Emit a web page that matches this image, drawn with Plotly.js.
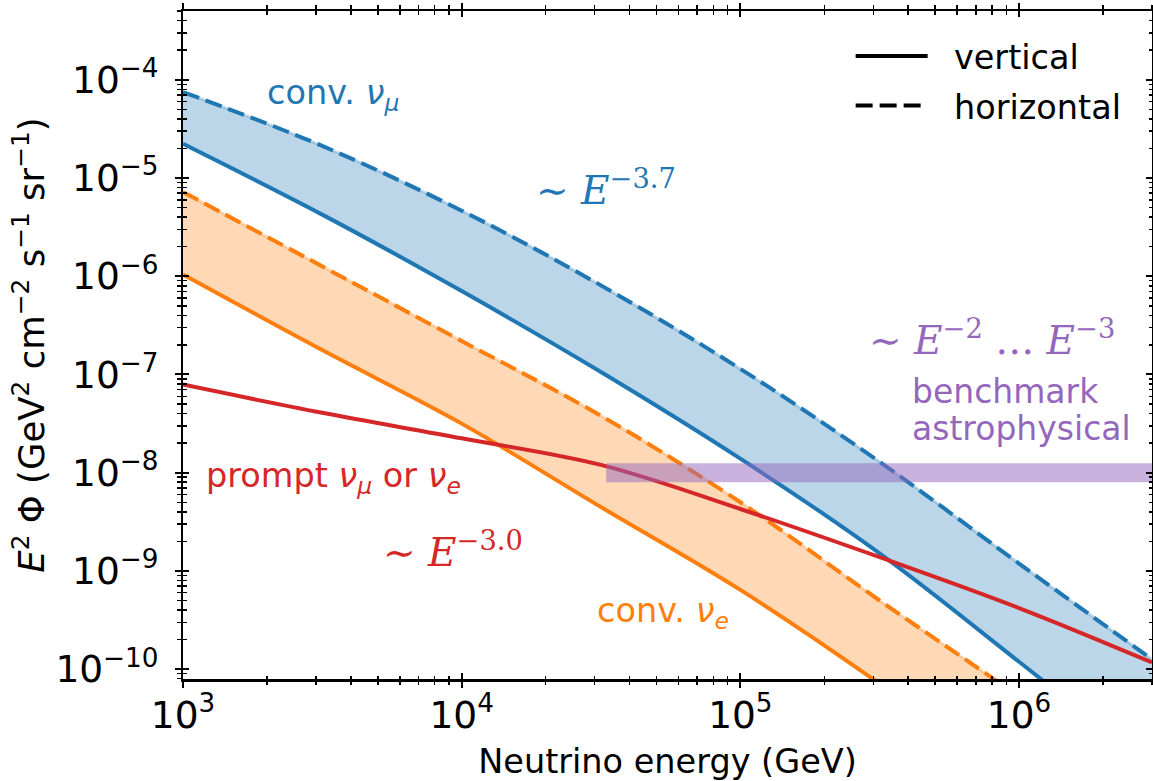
<!DOCTYPE html>
<html>
<head>
<meta charset="utf-8">
<script src="https://cdn.plot.ly/plotly-3.0.1.min.js"></script>
<style>body{margin:0;padding:0;background:#fff}#chart{width:1153px;height:781px}</style>
</head>
<body>
<div id="chart"></div>
<script>
// Neutrino energy (GeV)
const energy = [1e3, 3.16e3, 1e4, 3.16e4, 1e5, 3.16e5, 1e6, 3e6];
// E^2 Phi (GeV cm^-2 s^-1 sr^-1)
const numuVertical   = [2.23e-5, 4.24e-6, 7.06e-7, 1.06e-7, 1.39e-8, 1.51e-9, 1.19e-10, 1.0e-11];
const numuHorizontal = [7.5e-5, 2.12e-5, 4.65e-6, 8.07e-7, 1.14e-7, 1.29e-8, 1.19e-9, 1.26e-10];
const nueVertical    = [1.04e-6, 1.77e-7, 3.16e-8, 4.47e-9, 6.41e-10, 7.1e-11, 6.3e-12, 6e-13];
const nueHorizontal  = [7.2e-6, 1.26e-6, 2.19e-7, 3.8e-8, 5.0e-9, 5.0e-10, 5.2e-11, 5e-12];
const promptFlux     = [7.9e-8, 4.07e-8, 2.24e-8, 1.2e-8, 4.27e-9, 1.38e-9, 4.19e-10, 1.17e-10];
// benchmark astrophysical band
const astroEnergy = [3.3e4, 3e6];
const astroLow    = [8e-9, 8e-9];
const astroHigh   = [1.25e-8, 1.25e-8];

const legendLabels = ['vertical', 'horizontal'];

const BLUE = '#1f77b4', ORANGE = '#ff7f0e', RED = '#d62728', PURPLE = '#9467bd';
const FONT = 'DejaVu Sans';
const SERIF = 'DejaVu Serif';
const LW = 4;
const DASH = '17px,7px';
const sp = {shape: 'spline', smoothing: 1};

const traces = [
  // blue band
  {x: energy, y: numuVertical, mode: 'lines', line: Object.assign({width: 0, color: 'rgba(0,0,0,0)'}, sp), showlegend: false, hoverinfo: 'skip'},
  {x: energy, y: numuHorizontal, mode: 'lines', fill: 'tonexty', fillcolor: 'rgba(31,119,180,0.3)',
   line: Object.assign({width: 3, color: 'rgba(31,119,180,0.25)'}, sp), showlegend: false, hoverinfo: 'skip'},
  // orange band
  {x: energy, y: nueVertical, mode: 'lines', line: Object.assign({width: 0, color: 'rgba(0,0,0,0)'}, sp), showlegend: false, hoverinfo: 'skip'},
  {x: energy, y: nueHorizontal, mode: 'lines', fill: 'tonexty', fillcolor: 'rgba(255,127,14,0.3)',
   line: Object.assign({width: 3, color: 'rgba(255,127,14,0.25)'}, sp), showlegend: false, hoverinfo: 'skip'},
  // lines
  {x: energy, y: numuVertical, mode: 'lines', line: Object.assign({width: LW, color: BLUE}, sp), showlegend: false},
  {x: energy, y: numuHorizontal, mode: 'lines', line: Object.assign({width: LW, color: BLUE, dash: DASH}, sp), showlegend: false},
  {x: energy, y: nueVertical, mode: 'lines', line: Object.assign({width: LW, color: ORANGE}, sp), showlegend: false},
  {x: energy, y: nueHorizontal, mode: 'lines', line: Object.assign({width: LW, color: ORANGE, dash: DASH}, sp), showlegend: false},
  {x: energy, y: promptFlux, mode: 'lines', line: Object.assign({width: LW, color: RED}, sp), showlegend: false},
  // astro band
  {x: astroEnergy, y: astroLow, mode: 'lines', line: {width: 0, color: 'rgba(0,0,0,0)'}, showlegend: false, hoverinfo: 'skip'},
  {x: astroEnergy, y: astroHigh, mode: 'lines', fill: 'tonexty', fillcolor: 'rgba(148,103,189,0.5)', line: {width: 0, color: 'rgba(0,0,0,0)'}, showlegend: false, hoverinfo: 'skip'},
  // legend entries
  {x: [null], y: [null], mode: 'lines', name: '\u00a0\u00a0' + legendLabels[0], legendgroup: 'a', line: {width: LW, color: 'black'}},
  {x: [null], y: [null], mode: 'lines', name: '\u00a0\u00a0' + legendLabels[1], legendgroup: 'b', line: {width: LW, color: 'black', dash: DASH}},
  // dummy trace for inward-tick overlay axes
  {x: [null], y: [null], xaxis: 'x2', yaxis: 'y2', mode: 'lines', showlegend: false, hoverinfo: 'skip'}
];

const XR = [3, Math.log10(3e6)];
const YR = [-10.1, -3.3];

function axisBase(range) {
  return {
    type: 'log', range: range, dtick: 1, exponentformat: 'power', showexponent: 'all',
    showgrid: false, zeroline: false, automargin: false, fixedrange: true
  };
}

const tickfont = {family: FONT, size: 30, color: 'black'};

const layout = {
  width: 1153, height: 781,
  margin: {l: 183, r: 1, t: 11, b: 102, pad: 0},
  paper_bgcolor: 'white', plot_bgcolor: 'white',
  font: {family: FONT, color: 'black'},
  showlegend: true,
  legend: {x: 0.689, y: 0.975, xanchor: 'left', yanchor: 'top', bgcolor: 'rgba(0,0,0,0)',
           font: {family: FONT, size: 33.5, color: 'black'}, traceorder: 'grouped', tracegroupgap: 3, itemwidth: 72},
  xaxis: Object.assign(axisBase(XR), {
    showline: true, linecolor: 'black', linewidth: 2.5, mirror: 'allticks',
    ticks: 'outside', ticklen: 6, tickwidth: 2, tickcolor: 'black', tickfont: tickfont, ticklabelstandoff: -3,
    minor: {ticks: 'outside', ticklen: 3.5, tickwidth: 1.5, tickcolor: 'black', dtick: 'D1', showgrid: false},
    title: {text: 'Neutrino energy (GeV)', font: {family: FONT, size: 33.5, color: 'black'}, standoff: 14}
  }),
  yaxis: Object.assign(axisBase(YR), {
    showline: true, linecolor: 'black', linewidth: 2.5, mirror: 'allticks',
    ticks: 'outside', ticklen: 6, tickwidth: 2, tickcolor: 'black', tickfont: tickfont, ticklabelstandoff: 10,
    minor: {ticks: 'outside', ticklen: 3.5, tickwidth: 1.5, tickcolor: 'black', dtick: 'D1', showgrid: false},
    title: {text: '<i>E</i><sup>2</sup> Φ (GeV<sup>2</sup> cm<sup>−2</sup> s<sup>−1</sup> sr<sup>−1</sup>)',
            font: {family: FONT, size: 35.5, color: 'black'}, standoff: 0}
  }),
  xaxis2: Object.assign(axisBase(XR), {
    overlaying: 'x', anchor: 'y2', side: 'bottom', showline: false, mirror: 'allticks',
    ticks: 'inside', ticklen: 6, tickwidth: 2, tickcolor: 'black', showticklabels: false,
    minor: {ticks: 'inside', ticklen: 3.5, tickwidth: 1.5, tickcolor: 'black', dtick: 'D1', showgrid: false}
  }),
  yaxis2: Object.assign(axisBase(YR), {
    overlaying: 'y', anchor: 'x2', side: 'left', showline: false, mirror: 'allticks',
    ticks: 'inside', ticklen: 6, tickwidth: 2, tickcolor: 'black', showticklabels: false,
    minor: {ticks: 'inside', ticklen: 3.5, tickwidth: 1.5, tickcolor: 'black', dtick: 'D1', showgrid: false}
  }),
  annotations: [
    {text: 'conv. <i>ν</i><sub><i>μ</i></sub>', x: 3.293, y: -4.16, xref: 'x', yref: 'y', xanchor: 'left', yanchor: 'middle',
     showarrow: false, font: {family: FONT, size: 33.5, color: BLUE}},
    {text: '∼ <i>E</i><sup>−3.7</sup>', x: 4.26, y: -5.10, xref: 'x', yref: 'y', xanchor: 'left', yanchor: 'middle',
     showarrow: false, font: {family: SERIF, size: 39, color: BLUE}},
    {text: '∼ <i>E</i><sup>−2</sup> … <i>E</i><sup>−3</sup>', x: 5.455, y: -6.63, xref: 'x', yref: 'y', xanchor: 'left', yanchor: 'middle',
     showarrow: false, font: {family: SERIF, size: 39, color: PURPLE}},
    {text: 'benchmark', x: 5.608, y: -7.177, xref: 'x', yref: 'y', xanchor: 'left', yanchor: 'middle',
     showarrow: false, font: {family: FONT, size: 33, color: PURPLE}},
    {text: 'astrophysical', x: 5.608, y: -7.55, xref: 'x', yref: 'y', xanchor: 'left', yanchor: 'middle',
     showarrow: false, font: {family: FONT, size: 33, color: PURPLE}},
    {text: 'prompt <i>ν</i><sub><i>μ</i></sub> or <i>ν</i><sub><i>e</i></sub>', x: 3.076, y: -8.05, xref: 'x', yref: 'y', xanchor: 'left', yanchor: 'middle',
     showarrow: false, font: {family: FONT, size: 33.5, color: RED}},
    {text: '∼ <i>E</i><sup>−3.0</sup>', x: 3.71, y: -8.79, xref: 'x', yref: 'y', xanchor: 'left', yanchor: 'middle',
     showarrow: false, font: {family: SERIF, size: 39, color: RED}},
    {text: 'conv. <i>ν</i><sub><i>e</i></sub>', x: 4.48, y: -9.43, xref: 'x', yref: 'y', xanchor: 'left', yanchor: 'middle',
     showarrow: false, font: {family: FONT, size: 33.5, color: ORANGE}}
  ]
};

Plotly.newPlot('chart', traces, layout, {displayModeBar: false, staticPlot: true});
</script>
</body>
</html>
